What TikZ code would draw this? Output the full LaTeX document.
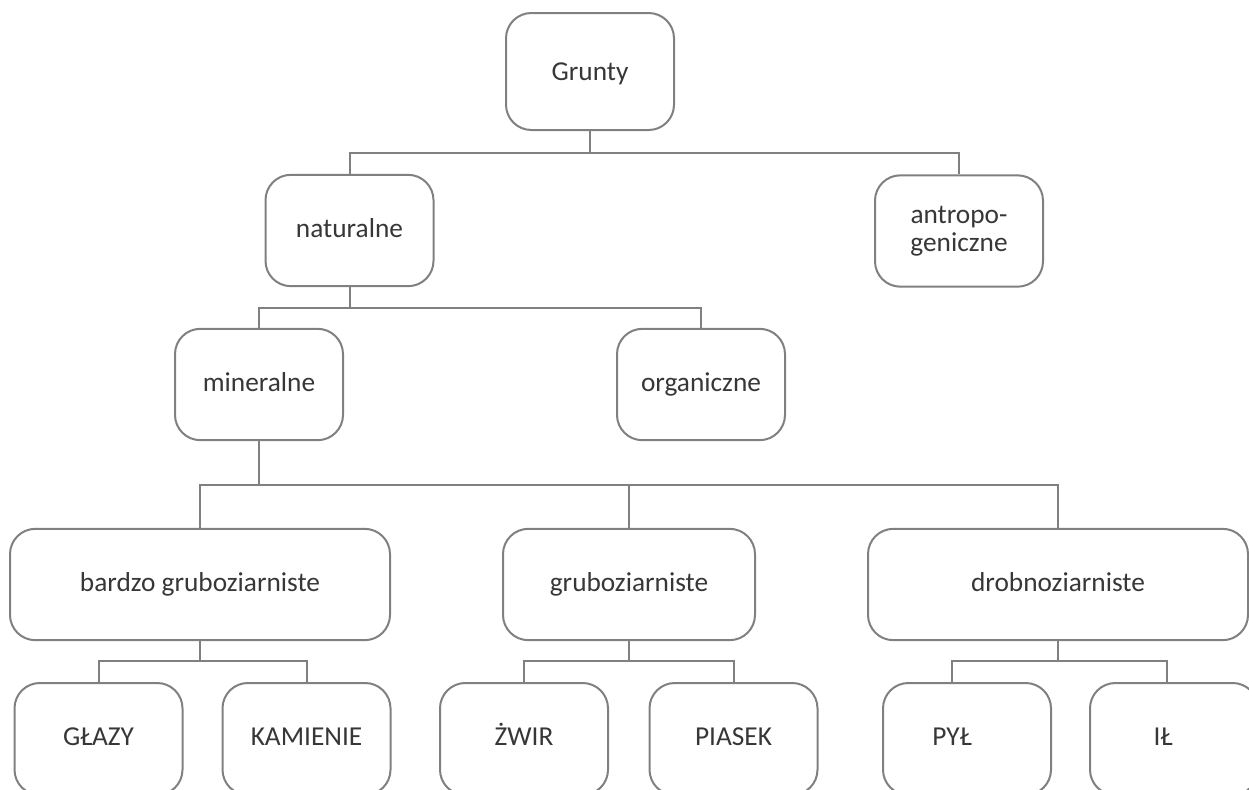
\documentclass[tikz,border=0pt]{standalone}
\usepackage{fontspec}
\setmainfont{Carlito}
\definecolor{linegray}{RGB}{128,128,128}
\definecolor{textgray}{RGB}{55,55,55}

\tikzset{every picture/.style={line width=1.5pt}}
\tikzset{
  box/.style={draw=linegray, rounded corners=19pt, fill=white, inner sep=0pt,
    minimum width=126pt, minimum height=83.5pt, text=textgray,
    font=\fontsize{20.5}{21}\selectfont, text height=14pt, text depth=4pt},
  widebox/.style={box, minimum width=285pt},
  link/.style={draw=linegray},
}

\begin{document}
\begin{tikzpicture}[x=0.75pt,y=0.75pt,yscale=-1,xscale=1]

\useasboundingbox (0,0) rectangle (1249,789);
\clip (0,0) rectangle (1249,789);

\draw (590,71.5) node [box, minimum height=87.75pt, text depth=1pt] (grunty) {Grunty};

\draw (349.5,230.5) node [box] (naturalne) {naturalne};
\draw (959,231) node [box, align=center, text height=, text depth=] (antropo) {antropo-\\geniczne};

\draw (259,384.5) node [box] (mineralne) {mineralne};
\draw (701,384.5) node [box] (organiczne) {organiczne};

\draw (200,584.5) node [widebox] (bardzo) {bardzo gruboziarniste};
\draw (629,584.5) node [box, minimum width=189pt] (grubo) {gruboziarniste};
\draw (1058,584.5) node [widebox] (drobno) {drobnoziarniste};

\draw (98.5,739) node [box, minimum height=84pt] (glazy) {GŁAZY};
\draw (306.5,739) node [box, minimum height=84pt] (kamienie) {KAMIENIE};
\draw (524,739) node [box, minimum height=84pt] (zwir) {ŻWIR};
\draw (733.5,739) node [box, minimum height=84pt] (piasek) {PIASEK};
\draw (967,739) node [box, minimum height=84pt] (pyl) {PYŁ\kern22.5pt};
\draw (1174,739) node [box, minimum height=84pt] (il) {IŁ\kern16.5pt};

\coordinate (bus1) at (590,153);
\coordinate (bus2) at (349.5,308);
\coordinate (bus3) at (259,485);
\coordinate (bus4a) at (201,661);
\coordinate (bus4b) at (627,661);
\coordinate (bus4c) at (1059,661);

\draw [link] (grunty.south) -- (bus1);
\draw [link] (naturalne.north) |- (bus1) -| (antropo.north);

\draw [link] (naturalne.south) -- (bus2);
\draw [link] (mineralne.north) |- (bus2) -| (organiczne.north);

\draw [link] (mineralne.south) -- (bus3);
\draw [link] (bardzo.north) |- (bus3) -| (drobno.north);
\draw [link] (grubo.north) -- (grubo.north |- bus3);

\draw [link] (bardzo.south) -- (bardzo.south |- bus4a);
\draw [link] (glazy.north) |- (bus4a) -| (kamienie.north);
\draw [link] (grubo.south) -- (grubo.south |- bus4b);
\draw [link] (zwir.north) |- (bus4b) -| (piasek.north);
\draw [link] (drobno.south) -- (drobno.south |- bus4c);
\draw [link] ([xshift=-11pt]pyl.north) |- (bus4c) -| ([xshift=-5pt]il.north);

\end{tikzpicture}
\end{document}
